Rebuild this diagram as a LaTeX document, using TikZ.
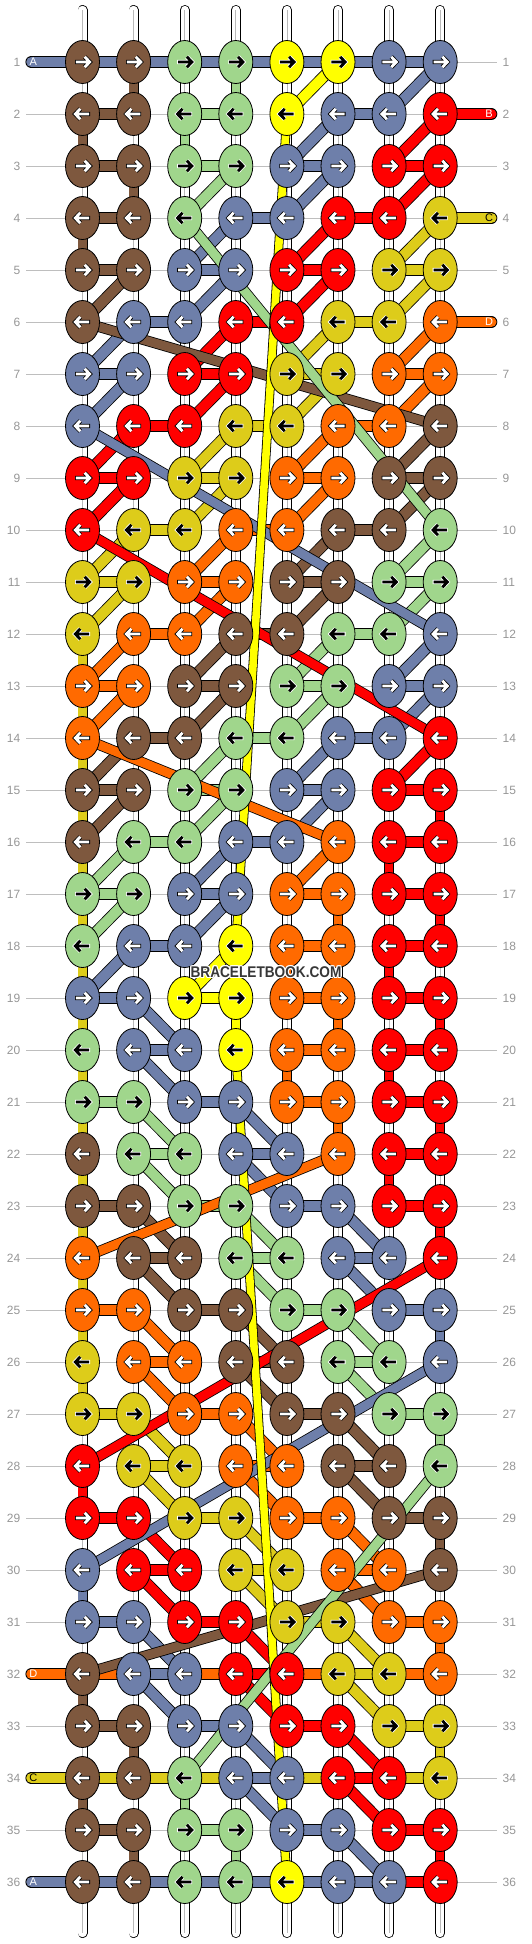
\documentclass[tikz,border=0pt]{standalone}
\usepackage{fontspec}
\setmainfont{Liberation Sans}
\usetikzlibrary{shapes.geometric}
\definecolor{colN}{RGB}{126,88,62}
\definecolor{colG}{RGB}{160,214,140}
\definecolor{colY}{RGB}{255,255,0}
\definecolor{colB}{RGB}{110,127,170}
\definecolor{colR}{RGB}{255,0,0}
\definecolor{colM}{RGB}{221,204,26}
\definecolor{colO}{RGB}{255,106,0}
\definecolor{labgray}{RGB}{150,150,150}
\definecolor{linegray}{RGB}{190,190,190}
\definecolor{tubegray}{RGB}{185,185,185}
\definecolor{wmgray}{RGB}{55,55,55}
\def\acN{white}\def\ocN{black}
\def\acB{white}\def\ocB{black}
\def\acR{white}\def\ocR{black}
\def\acO{white}\def\ocO{black}
\def\acG{black}\def\ocG{white}
\def\acY{black}\def\ocY{white}
\def\acM{black}\def\ocM{white}
\tikzset{
  strand/.style={draw=black, line width=0.8pt, double=#1, double distance=10.2pt},
  vstrand/.style={draw=black, line width=0.8pt, double=#1, double distance=8.4pt},
  fstrand/.style={draw=black, line width=0.8pt, double=#1, double distance=9pt},
  ystrand/.style={draw=black, line width=0.8pt, double=#1, double distance=7.6pt},
  edgebar/.style={draw=black, line width=0.8pt, double=#1, double distance=10.4pt, line cap=round},
  knot/.style={ellipse, draw=black, line width=0.8pt, minimum width=34pt, minimum height=43pt, inner sep=0pt, fill=#1},
  rowlab/.style={text=labgray, font=\fontsize{12}{12}\selectfont, inner sep=0pt},
  edgelab/.style={font=\fontsize{11}{11}\selectfont, inner sep=0pt},
}
\begin{document}
\begin{tikzpicture}[x=1pt,y=-1pt]
\useasboundingbox (0,0) rectangle (532,1944);
% coordinates
\foreach \r in {1,...,36}{
  \foreach \c in {0,...,9}{
    \coordinate (k-\r-\c) at ({82.5+51.1*(\c-1)},{62+52*(\r-1)});
  }
}
% row lines and labels
\foreach \r in {1,...,36}{
  \draw[linegray, line width=0.8pt] (26,{62+52*(\r-1)}) -- (497,{62+52*(\r-1)});
  \node[rowlab, anchor=east] (ll-\r) at (20.5,{62+52*(\r-1)}) {\r};
  \node[rowlab, anchor=west] (rl-\r) at (502.5,{62+52*(\r-1)}) {\r};
}
% base tubes
\foreach \c in {1,...,8}{
  \coordinate (tt-\c) at ({82.5+51.1*(\c-1)},10);
  \coordinate (tb-\c) at ({82.5+51.1*(\c-1)},1933);
  \draw[black, line width=10pt, line cap=round] (tt-\c) -- (tb-\c);
  \draw[white, line width=8.4pt, line cap=round] (tt-\c) -- (tb-\c);
  \draw[tubegray, line width=0.8pt] (tt-\c) -- (tb-\c);
}
% carriers and edge bars
\draw[edgebar=colB] (k-1-0) -- (k-1-8);
\draw[edgebar=colR] (k-2-9) -- (k-2-8);
\draw[edgebar=colM] (k-4-9) -- (k-4-8);
\draw[edgebar=colO] (k-6-9) -- (k-6-8);
\draw[edgebar=colO] (k-32-0) -- (k-32-8);
\draw[edgebar=colM] (k-34-0) -- (k-34-8);
\draw[edgebar=colB] (k-36-0) -- (k-36-7);
% horizontal bars
\foreach \r/\a/\b/\k in {
2/1/2/N,2/3/4/G,2/6/7/B,
3/1/2/N,3/3/4/G,3/5/6/B,3/7/8/R,
4/1/2/N,4/4/5/B,4/6/7/R,
5/1/2/N,5/3/4/B,5/5/6/R,5/7/8/M,
6/2/3/B,6/4/5/R,6/6/7/M,
7/1/2/B,7/3/4/R,7/5/6/M,7/7/8/O,
8/2/3/R,8/4/5/M,8/6/7/O,
9/1/2/R,9/3/4/M,9/5/6/O,9/7/8/N,
10/2/3/M,10/4/5/O,10/6/7/N,
11/1/2/M,11/3/4/O,11/5/6/N,11/7/8/G,
12/2/3/O,12/4/5/N,12/6/7/G,
13/1/2/O,13/3/4/N,13/5/6/G,13/7/8/B,
14/2/3/N,14/4/5/G,14/6/7/B,
15/1/2/N,15/3/4/G,15/5/6/B,15/7/8/R,
16/2/3/G,16/4/5/B,16/7/8/R,
17/1/2/G,17/3/4/B,17/5/6/O,17/7/8/R,
18/2/3/B,18/5/6/O,18/7/8/R,
19/1/2/B,19/3/4/Y,19/5/6/O,19/7/8/R,
20/2/3/B,20/5/6/O,20/7/8/R,
21/1/2/G,21/3/4/B,21/5/6/O,21/7/8/R,
22/2/3/G,22/4/5/B,22/7/8/R,
23/1/2/N,23/3/4/G,23/5/6/B,23/7/8/R,
24/2/3/N,24/4/5/G,24/6/7/B,
25/1/2/O,25/3/4/N,25/5/6/G,25/7/8/B,
26/2/3/O,26/4/5/N,26/6/7/G,
27/1/2/M,27/3/4/O,27/5/6/N,27/7/8/G,
28/2/3/M,28/4/5/O,28/6/7/N,
29/1/2/R,29/3/4/M,29/5/6/O,29/7/8/N,
30/2/3/R,30/4/5/M,30/6/7/O,
31/1/2/B,31/3/4/R,31/5/6/M,31/7/8/O,
32/2/3/B,32/4/5/R,32/6/7/M,
33/1/2/N,33/3/4/B,33/5/6/R,33/7/8/M,
34/4/5/B,34/6/7/R,
35/1/2/N,35/3/4/G,35/5/6/B,35/7/8/R,
36/7/8/R}{
  \edef\cc{col\k}
  \draw[strand=\cc] (k-\r-\a) -- (k-\r-\b);
}
% vertical connectors
\draw[vstrand=colM] (k-12-1) -- (k-27-1);
\foreach \r/\c/\k in {
1/2/N,1/4/G,2/1/N,2/3/G,3/2/N,4/1/N,
15/8/R,16/7/R,17/8/R,18/7/R,19/8/R,20/7/R,21/8/R,22/7/R,23/8/R,
17/6/O,18/5/O,19/6/O,20/5/O,21/6/O,
19/4/Y,25/8/B,27/8/G,28/1/R,29/8/N,30/1/B,31/8/O,32/1/N,
33/2/N,33/8/M,34/1/N,34/3/G,35/2/N,35/4/G,35/8/R}{
  \edef\cc{col\k}
  \pgfmathtruncatemacro\rr{\r+1}
  \draw[vstrand=\cc] (k-\r-\c) -- (k-\rr-\c);
}
% diagonal connectors
\foreach \r/\a/\b/\k in {
1/8/7/B,2/6/5/B,3/6/5/B,4/4/3/B,5/4/3/B,6/2/1/B,7/2/1/B,12/8/7/B,13/8/7/B,14/6/5/B,15/6/5/B,16/4/3/B,17/4/3/B,18/2/1/B,19/2/3/B,20/2/3/B,21/4/5/B,22/4/5/B,23/6/7/B,24/6/7/B,31/2/3/B,32/2/3/B,33/4/5/B,34/4/5/B,35/6/7/B,
2/8/7/R,3/8/7/R,4/6/5/R,5/6/5/R,6/4/3/R,7/4/3/R,8/2/1/R,9/2/1/R,14/8/7/R,29/2/3/R,30/2/3/R,31/4/5/R,32/4/5/R,33/6/7/R,34/6/7/R,
4/8/7/M,5/8/7/M,6/6/5/M,7/6/5/M,8/4/3/M,9/4/3/M,10/2/1/M,11/2/1/M,27/2/3/M,28/2/3/M,29/4/5/M,30/4/5/M,31/6/7/M,32/6/7/M,
6/8/7/O,7/8/7/O,8/6/5/O,9/6/5/O,10/4/3/O,11/4/3/O,12/2/1/O,13/2/1/O,16/6/5/O,25/2/3/O,26/2/3/O,27/4/5/O,28/4/5/O,29/6/7/O,30/6/7/O,
5/2/1/N,8/8/7/N,9/8/7/N,10/6/5/N,11/6/5/N,12/4/3/N,13/4/3/N,14/2/1/N,15/2/1/N,23/2/3/N,24/2/3/N,25/4/5/N,26/4/5/N,27/6/7/N,28/6/7/N,
3/4/3/G,10/8/7/G,11/8/7/G,12/6/5/G,13/6/5/G,14/4/3/G,15/4/3/G,16/2/1/G,17/2/1/G,21/2/3/G,22/2/3/G,23/4/5/G,24/4/5/G,25/6/7/G,26/6/7/G,
1/6/5/Y,18/4/3/Y}{
  \edef\cc{col\k}
  \pgfmathtruncatemacro\rr{\r+1}
  \draw[strand=\cc] (k-\r-\a) -- (k-\rr-\b);
}
% floats
\foreach \r/\a/\s/\b/\k in {
8/1/12/8/B,26/8/30/1/B,10/1/14/8/R,24/8/28/1/R,6/1/8/8/N,30/8/32/1/N,4/3/10/8/G,28/8/34/3/G,14/1/16/6/O,22/6/24/1/O}{
  \edef\cc{col\k}
  \draw[fstrand=\cc] (k-\r-\a) -- (k-\s-\b);
}
% long yellow string
\draw[ystrand=colY] (k-2-5) -- (k-18-4);
\draw[ystrand=colY] (k-20-4) -- (k-36-5);
% edge letters
\node[edgelab, text=white] (eA1) at (33.3,62) {A};
\node[edgelab, text=white] (eB2) at (489,114) {B};
\node[edgelab, text=black] (eC4) at (489,218) {C};
\node[edgelab, text=white] (eD6) at (489,322) {D};
\node[edgelab, text=white] (eD32) at (33.3,1674) {D};
\node[edgelab, text=black] (eC34) at (33.3,1778) {C};
\node[edgelab, text=white] (eA36) at (33.3,1882) {A};
% knots
\foreach \r/\row in {
1/{N,N,G,G,Y,Y,B,B},
2/{N,N,G,G,Y,B,B,R},
3/{N,N,G,G,B,B,R,R},
4/{N,N,G,B,B,R,R,M},
5/{N,N,B,B,R,R,M,M},
6/{N,B,B,R,R,M,M,O},
7/{B,B,R,R,M,M,O,O},
8/{B,R,R,M,M,O,O,N},
9/{R,R,M,M,O,O,N,N},
10/{R,M,M,O,O,N,N,G},
11/{M,M,O,O,N,N,G,G},
12/{M,O,O,N,N,G,G,B},
13/{O,O,N,N,G,G,B,B},
14/{O,N,N,G,G,B,B,R},
15/{N,N,G,G,B,B,R,R},
16/{N,G,G,B,B,O,R,R},
17/{G,G,B,B,O,O,R,R},
18/{G,B,B,Y,O,O,R,R},
19/{B,B,Y,Y,O,O,R,R},
20/{G,B,B,Y,O,O,R,R},
21/{G,G,B,B,O,O,R,R},
22/{N,G,G,B,B,O,R,R},
23/{N,N,G,G,B,B,R,R},
24/{O,N,N,G,G,B,B,R},
25/{O,O,N,N,G,G,B,B},
26/{M,O,O,N,N,G,G,B},
27/{M,M,O,O,N,N,G,G},
28/{R,M,M,O,O,N,N,G},
29/{R,R,M,M,O,O,N,N},
30/{B,R,R,M,M,O,O,N},
31/{B,B,R,R,M,M,O,O},
32/{N,B,B,R,R,M,M,O},
33/{N,N,B,B,R,R,M,M},
34/{N,N,G,B,B,R,R,M},
35/{N,N,G,G,B,B,R,R},
36/{N,N,G,G,Y,B,B,R}}{
  \pgfmathtruncatemacro\sg{ifthenelse(mod(\r,2)==1,1,-1)}
  \foreach \k [count=\c] in \row {
    \edef\cc{col\k}
    \edef\ac{\csname ac\k\endcsname}
    \edef\oc{\csname oc\k\endcsname}
    \node[knot=\cc] (n-\r-\c) at (k-\r-\c) {};
    \begin{scope}[shift={(k-\r-\c)}, xscale=\sg]
      \draw[\oc, line width=4.4pt, line join=miter] (-7.5,0) -- (7,0) (2.2,-5.2) -- (7.2,0) -- (2.2,5.2);
      \draw[\ac, line width=2.8pt, line join=miter] (-6.7,0) -- (6.5,0) (2.2,-5.2) -- (7.2,0) -- (2.2,5.2);
    \end{scope}
  }
}
% watermark
\foreach \dx/\dy [count=\i] in {-1.2/0,1.2/0,0/-1.2,0/1.2,-0.9/-0.9,0.9/0.9,-0.9/0.9,0.9/-0.9}{
  \node[text=white, font=\bfseries\fontsize{15.5}{15.5}\selectfont, inner sep=0pt] (wmh-\i) at ({266+\dx},{972+\dy}) {\scalebox{0.88}[1]{BRACELETBOOK.COM}};
}
\node[text=wmgray, font=\bfseries\fontsize{15.5}{15.5}\selectfont, inner sep=0pt] (wm) at (266,972) {\scalebox{0.88}[1]{BRACELETBOOK.COM}};
\end{tikzpicture}
\end{document}
